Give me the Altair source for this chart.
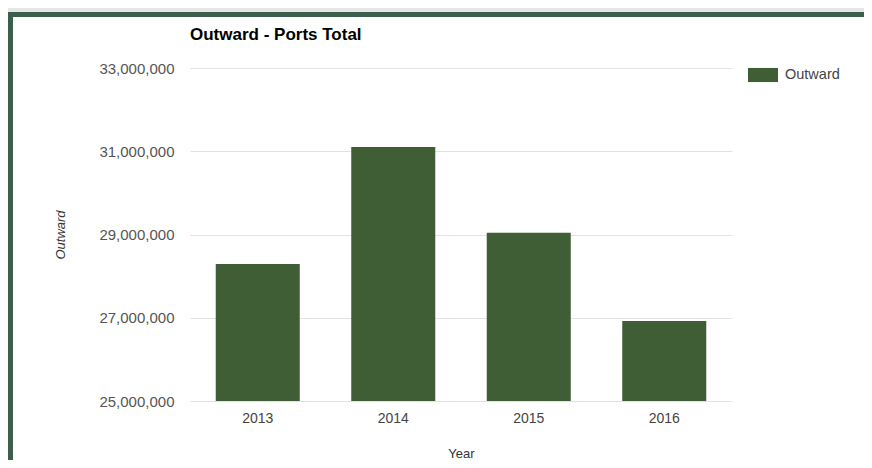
import altair as alt
import pandas as pd

years = ["2013", "2014", "2015", "2016"]
outward = [28290000, 31100000, 29040000, 26920000]
series = ["Outward"] * 4
y_ticks = [25000000, 27000000, 29000000, 31000000, 33000000]

BAR = "#3f5e35"
FRAME = "#3d5e4a"
FONT = "Liberation Sans"

df = pd.DataFrame({"Year": years, "Outward": outward, "series": series})

bars = alt.Chart(df).mark_bar(color=BAR, clip=True).encode(
    x=alt.X("Year:N", sort=years,
            scale=alt.Scale(paddingInner=0.38, paddingOuter=0.19),
            axis=alt.Axis(title="Year", labelAngle=0, ticks=False, domain=False,
                          labelPadding=10, labelFontSize=14, labelColor="#444",
                          labelFont=FONT, titleFont=FONT, titleFontSize=13,
                          titleFontWeight="normal", titleColor="#333",
                          titlePadding=22)),
    y=alt.Y("Outward:Q",
            scale=alt.Scale(domain=[25000000, 33000000], nice=False, zero=False),
            axis=alt.Axis(title="Outward", values=y_ticks, format=",d",
                          ticks=False, domain=False, labelPadding=16,
                          labelFontSize=15, labelColor="#555", labelFont=FONT,
                          titleFont=FONT, titleFontSize=13, titleFontStyle="italic",
                          titleFontWeight="normal", titleColor="#333",
                          titlePadding=31, gridColor="#e2e2e2")),
    color=alt.Color("series:N",
                    scale=alt.Scale(range=[BAR]),
                    legend=alt.Legend(title=None, orient="none", legendX=558, legendY=-8,
                                      symbolType="M-1,-0.47H1V0.47H-1Z", symbolSize=900,
                                      symbolStrokeWidth=0, symbolOpacity=1,
                                      labelFont=FONT, labelFontSize=14.5,
                                      labelColor="#444", labelOffset=7)),
)

strip = alt.Chart(alt.Data(values=[{"a": 1}])).mark_rect(color="#e4e6e8").encode(
    x=alt.value(-182), x2=alt.value(1000), y=alt.value(-60), y2=alt.value(-56)
)

frame = alt.Chart(alt.Data(values=[{"a": 1}])).mark_rect(
    fillOpacity=0, stroke=FRAME, strokeWidth=5
).encode(
    x=alt.value(-179.5), x2=alt.value(1000), y=alt.value(-53.5), y2=alt.value(1000)
)

chart = alt.layer(strip, frame, bars).properties(
    width=542, height=333,
    title=alt.TitleParams("Outward - Ports Total", anchor="start", frame="group",
                          font=FONT, fontSize=17, fontWeight="bold", color="#000",
                          offset=24, dy=60),
    autosize=alt.AutoSizeParams(type="none"),
    padding={"left": 182, "top": 60, "right": 132, "bottom": 59},
    background="white",
).configure_view(stroke=None)

chart.save("out.html", embed_options={"renderer": "svg", "actions": False})
